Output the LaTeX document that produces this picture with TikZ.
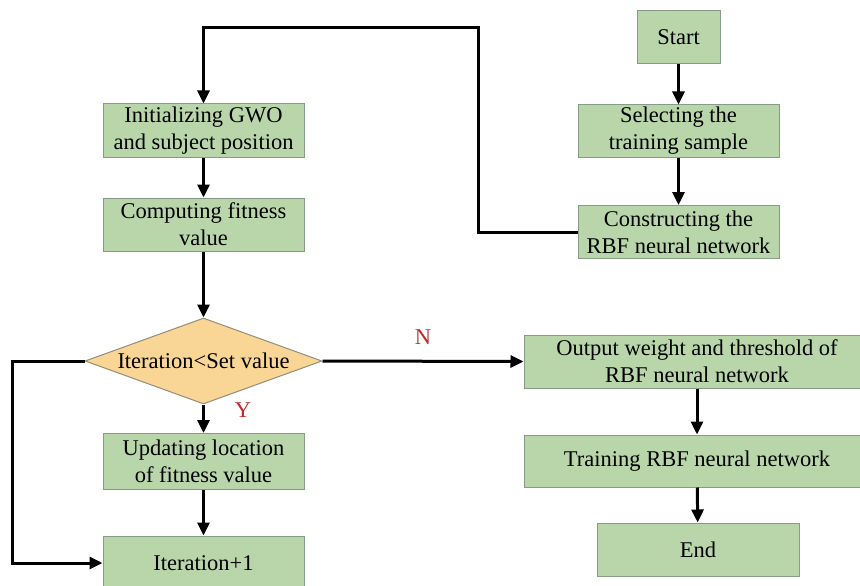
\documentclass[tikz,border=0pt]{standalone}
\usepackage{fontspec}
\setmainfont{Liberation Serif}
\usepackage{tikz}
\usetikzlibrary{shapes.geometric,arrows.meta}
\definecolor{boxgreen}{RGB}{185,214,170}
\definecolor{boxline}{RGB}{135,155,135}
\definecolor{condfill}{RGB}{250,214,150}
\definecolor{condline}{RGB}{150,140,120}
\definecolor{labred}{RGB}{190,40,40}
\begin{document}
\begin{tikzpicture}[x=1pt,y=-1pt,
    box/.style={draw=boxline,fill=boxgreen,line width=1pt,inner sep=0pt,align=center,
      minimum width=201pt,minimum height=53pt,font=\fontsize{22.5}{27}\selectfont},
    cond/.style={diamond,draw=condline,fill=condfill,line width=1pt,inner sep=0pt,aspect=2.76,
      minimum width=237pt,minimum height=86pt,font=\fontsize{22.5}{27}\selectfont},
    yn/.style={text=labred,font=\fontsize{22.5}{27}\selectfont},
    arr/.style={line width=3pt,-{Triangle[length=13pt,width=12pt]}}]
    \useasboundingbox (0,0) rectangle (860,586);
      \node[box,minimum width=83pt] (start) at (678.5,37) {Start};
      \node[box,minimum height=52pt] (select) at (678.5,131) {Selecting the\\training sample};
      \node[box] (construct) at (678.5,232) {Constructing the\\RBF neural network};
      \node[box] (init) at (203.5,130.5) {Initializing GWO\\and subject position};
      \node[box] (comp) at (203.5,224.5) {Computing fitness\\value};
      \node[cond] (test) at (203.5,361) {Iteration<Set value};
      \node[box,minimum height=56pt] (upd) at (203.5,461.5) {Updating location\\of fitness value};
      \node[box,minimum height=54pt] (iter) at (203.5,563) {Iteration+1};
      \node[box,minimum width=346pt] (out) at (697,361.5) {Output weight and threshold of\\RBF neural network};
      \node[box,minimum width=346pt,minimum height=52pt] (train) at (697,461) {Training RBF neural network};
      \node[box,minimum width=202pt] (end) at (698,549.5) {End};
      \node[yn] (no) at (423,337) {N};
      \node[yn] (yes) at (243,410) {Y};
      \coordinate (top) at (478,28);
      \coordinate (back) at (12,361);
    \draw[arr] (start) -- (select);
    \draw[arr] (select) -- (construct);
    \draw[arr] (construct.west) -| (top) -| (init.north);
    \draw[arr] (init) -- (comp);
    \draw[arr] (comp) -- (test.north);
    \draw[arr] (test.east) -- (out.west);
    \draw[arr] (test.south) -- (upd);
    \draw[arr] (upd) -- (iter);
    \draw[arr] (test.west) -- (back) |- (iter.west);
    \draw[arr] (out) -- (train);
    \draw[arr] (train) -- (end);
    \end{tikzpicture}
\end{document}
